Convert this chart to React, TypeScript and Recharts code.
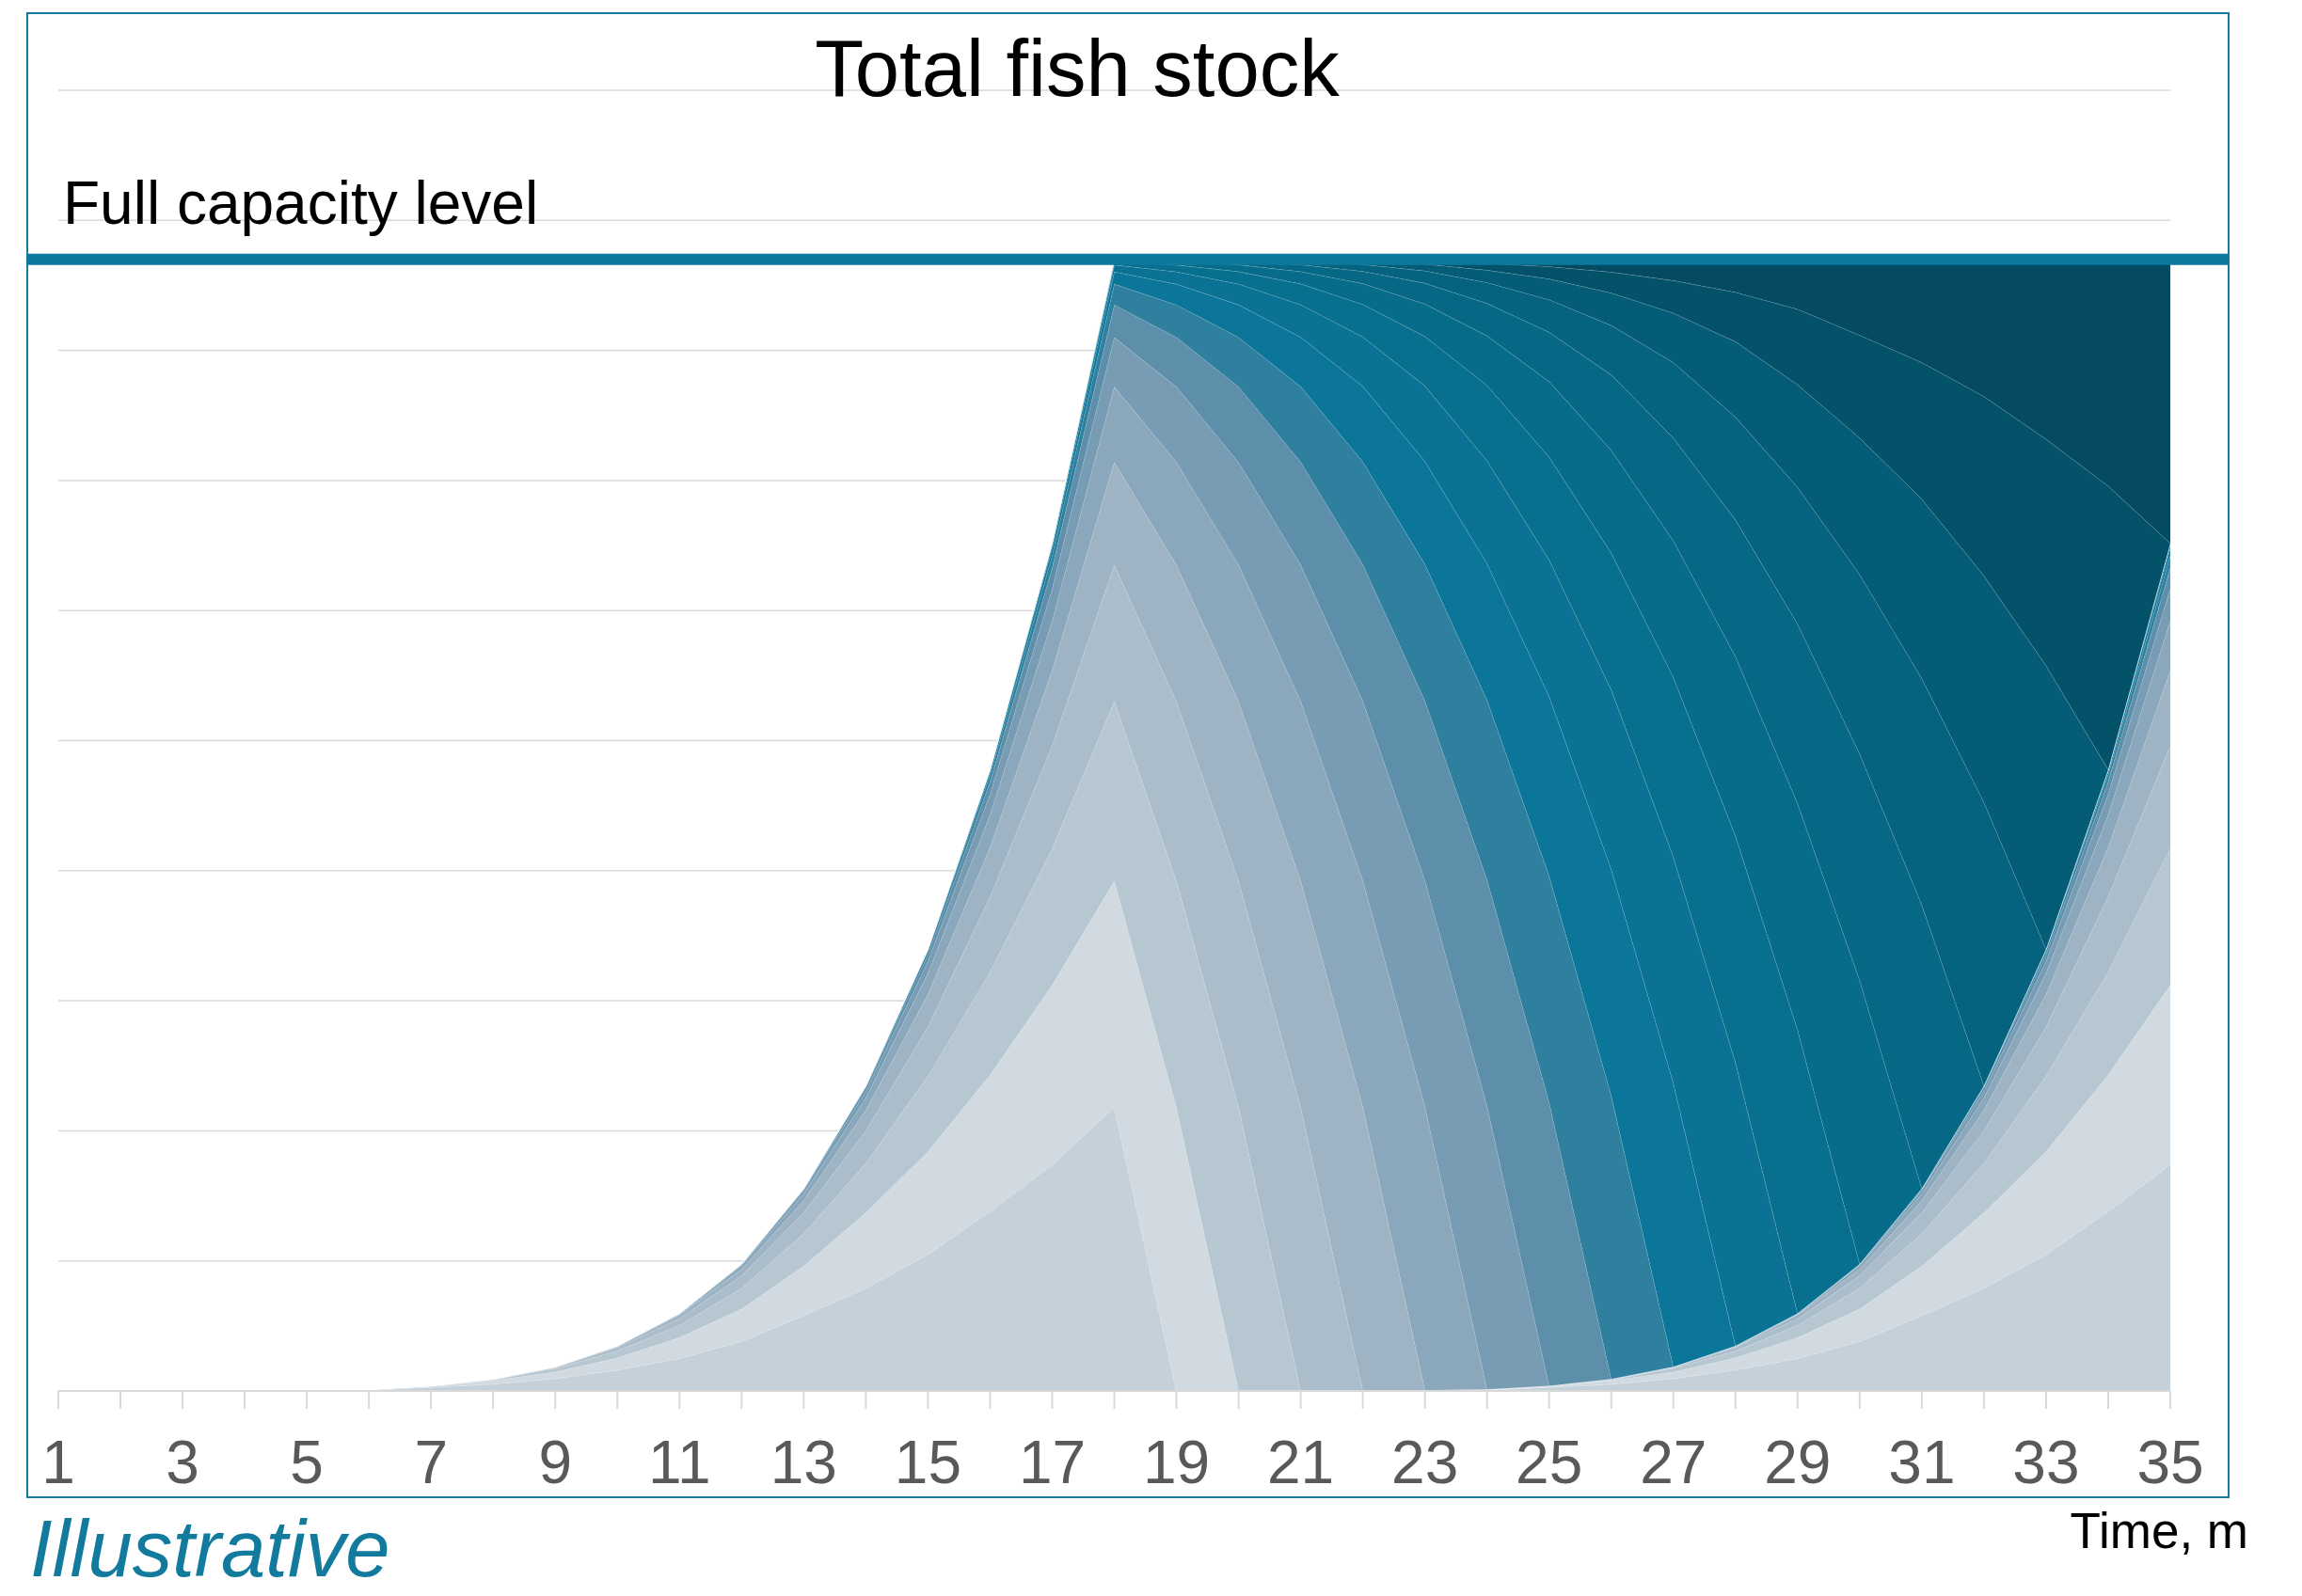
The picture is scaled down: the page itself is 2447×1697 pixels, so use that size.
import React from 'react';
import { AreaChart, Area, XAxis, YAxis, CartesianGrid, ReferenceLine } from 'recharts';

const FONT = '"Liberation Sans", Arial, Helvetica, sans-serif';

// months on the time axis, every one gets a tick, odd ones get a label
const MONTHS = [1, 2, 3, 4, 5, 6, 7, 8, 9, 10, 11, 12, 13, 14, 15, 16, 17, 18, 19, 20, 21, 22, 23, 24, 25, 26, 27, 28, 29, 30, 31, 32, 33, 34, 35];
const STOCK_GRID = [0, 10, 20, 30, 40, 50, 60, 70, 80, 90, 100];
const CAPACITY = 87;

// stock held in each pen, month by month (pen 1 sits at the bottom of the stack)
const PEN_01 = [0, .01, .01, .02, .03, .05, .28, .52, .95, 1.6, 2.5, 3.8, 5.8, 7.9, 10.5, 13.8, 17.4, 21.8, 0, .01, .01, .02, .03, .05, .28, .52, .95, 1.6, 2.5, 3.8, 5.8, 7.9, 10.5, 13.8, 17.4];
const PEN_02 = [0, 0, .01, .01, .02, .03, .05, .28, .52, .95, 1.6, 2.5, 3.8, 5.8, 7.9, 10.5, 13.8, 17.4, 21.8, 0, .01, .01, .02, .03, .05, .28, .52, .95, 1.6, 2.5, 3.8, 5.8, 7.9, 10.5, 13.8];
const PEN_03 = [0, 0, 0, .01, .01, .02, .03, .05, .28, .52, .95, 1.6, 2.5, 3.8, 5.8, 7.9, 10.5, 13.8, 17.4, 21.8, 0, .01, .01, .02, .03, .05, .28, .52, .95, 1.6, 2.5, 3.8, 5.8, 7.9, 10.5];
const PEN_04 = [0, 0, 0, 0, .01, .01, .02, .03, .05, .28, .52, .95, 1.6, 2.5, 3.8, 5.8, 7.9, 10.5, 13.8, 17.4, 21.8, 0, .01, .01, .02, .03, .05, .28, .52, .95, 1.6, 2.5, 3.8, 5.8, 7.9];
const PEN_05 = [0, 0, 0, 0, 0, .01, .01, .02, .03, .05, .28, .52, .95, 1.6, 2.5, 3.8, 5.8, 7.9, 10.5, 13.8, 17.4, 21.8, 0, .01, .01, .02, .03, .05, .28, .52, .95, 1.6, 2.5, 3.8, 5.8];
const PEN_06 = [0, 0, 0, 0, 0, 0, .01, .01, .02, .03, .05, .28, .52, .95, 1.6, 2.5, 3.8, 5.8, 7.9, 10.5, 13.8, 17.4, 21.8, 0, .01, .01, .02, .03, .05, .28, .52, .95, 1.6, 2.5, 3.8];
const PEN_07 = [0, 0, 0, 0, 0, 0, 0, .01, .01, .02, .03, .05, .28, .52, .95, 1.6, 2.5, 3.8, 5.8, 7.9, 10.5, 13.8, 17.4, 21.8, 0, .01, .01, .02, .03, .05, .28, .52, .95, 1.6, 2.5];
const PEN_08 = [0, 0, 0, 0, 0, 0, 0, 0, .01, .01, .02, .03, .05, .28, .52, .95, 1.6, 2.5, 3.8, 5.8, 7.9, 10.5, 13.8, 17.4, 21.8, 0, .01, .01, .02, .03, .05, .28, .52, .95, 1.6];
const PEN_09 = [0, 0, 0, 0, 0, 0, 0, 0, 0, .01, .01, .02, .03, .05, .28, .52, .95, 1.6, 2.5, 3.8, 5.8, 7.9, 10.5, 13.8, 17.4, 21.8, 0, .01, .01, .02, .03, .05, .28, .52, .95];
const PEN_10 = [0, 0, 0, 0, 0, 0, 0, 0, 0, 0, .01, .01, .02, .03, .05, .28, .52, .95, 1.6, 2.5, 3.8, 5.8, 7.9, 10.5, 13.8, 17.4, 21.8, 0, .01, .01, .02, .03, .05, .28, .52];
const PEN_11 = [0, 0, 0, 0, 0, 0, 0, 0, 0, 0, 0, .01, .01, .02, .03, .05, .28, .52, .95, 1.6, 2.5, 3.8, 5.8, 7.9, 10.5, 13.8, 17.4, 21.8, 0, .01, .01, .02, .03, .05, .28];
const PEN_12 = [0, 0, 0, 0, 0, 0, 0, 0, 0, 0, 0, 0, .01, .01, .02, .03, .05, .28, .52, .95, 1.6, 2.5, 3.8, 5.8, 7.9, 10.5, 13.8, 17.4, 21.8, 0, .01, .01, .02, .03, .05];
const PEN_13 = [0, 0, 0, 0, 0, 0, 0, 0, 0, 0, 0, 0, 0, .01, .01, .02, .03, .05, .28, .52, .95, 1.6, 2.5, 3.8, 5.8, 7.9, 10.5, 13.8, 17.4, 21.8, 0, .01, .01, .02, .03];
const PEN_14 = [0, 0, 0, 0, 0, 0, 0, 0, 0, 0, 0, 0, 0, 0, .01, .01, .02, .03, .05, .28, .52, .95, 1.6, 2.5, 3.8, 5.8, 7.9, 10.5, 13.8, 17.4, 21.8, 0, .01, .01, .02];
const PEN_15 = [0, 0, 0, 0, 0, 0, 0, 0, 0, 0, 0, 0, 0, 0, 0, .01, .01, .02, .03, .05, .28, .52, .95, 1.6, 2.5, 3.8, 5.8, 7.9, 10.5, 13.8, 17.4, 21.8, 0, .01, .01];
const PEN_16 = [0, 0, 0, 0, 0, 0, 0, 0, 0, 0, 0, 0, 0, 0, 0, 0, .01, .01, .02, .03, .05, .28, .52, .95, 1.6, 2.5, 3.8, 5.8, 7.9, 10.5, 13.8, 17.4, 21.8, 0, .01];
const PEN_17 = [0, 0, 0, 0, 0, 0, 0, 0, 0, 0, 0, 0, 0, 0, 0, 0, 0, .01, .01, .02, .03, .05, .28, .52, .95, 1.6, 2.5, 3.8, 5.8, 7.9, 10.5, 13.8, 17.4, 21.8, 0];
const PEN_18 = [0, 0, 0, 0, 0, 0, 0, 0, 0, 0, 0, 0, 0, 0, 0, 0, 0, 0, .01, .01, .02, .03, .05, .28, .52, .95, 1.6, 2.5, 3.8, 5.8, 7.9, 10.5, 13.8, 17.4, 21.8];

const PENS = [PEN_01, PEN_02, PEN_03, PEN_04, PEN_05, PEN_06, PEN_07, PEN_08, PEN_09, PEN_10, PEN_11, PEN_12, PEN_13, PEN_14, PEN_15, PEN_16, PEN_17, PEN_18];

const PEN_COLORS = [
  '#c4d1da', '#d0dae0', '#b7c7d1', '#abbdca', '#9eb3c3', '#8aa7bb', '#779cb3', '#5d8eaa', '#2f7f9f',
  '#0b7699', '#0a7395', '#08708f', '#076c8a', '#076885', '#06637f', '#055c76', '#04526a', '#034a62',
];

const rows = MONTHS.map((month, k) => {
  const row: Record<string, number> = { month };
  PENS.forEach((pen, i) => { row[`pen${i + 1}`] = pen[k]; });
  return row;
});

function MonthTick({ x, y, payload }: any) {
  if (payload.value % 2 === 0) return <g />;
  return (
    <text x={x} y={y + 77} textAnchor="middle" fontSize={64} fill="#595959" fontFamily={FONT}>
      {payload.value}
    </text>
  );
}

// capacity bar runs edge to edge of the frame, not just across the plot
function CapacityBar(p: any) {
  return <line x1={p.x1 - 34} y1={p.y1} x2={p.x2 + 63} y2={p.y2} stroke="#0b789c" strokeWidth={12} />;
}

export default function App() {
  return (
    <div style={{ position: 'absolute', left: 0, top: 0, width: 2447, height: 1697, background: '#fff', fontFamily: FONT }}>
      <div style={{ position: 'absolute', left: 28, top: 13, width: 2342, height: 1580, border: '2px solid #1479a0', boxSizing: 'border-box' }} />
      <div style={{ position: 'absolute', left: 0, top: 0 }}>
        <AreaChart width={2447} height={1697} data={rows} margin={{ top: 96, left: 62, right: 140, bottom: 118 }}>
          <CartesianGrid vertical={false} stroke="#d9d9d9" strokeWidth={1.5} horizontalValues={STOCK_GRID} />
          <XAxis
            dataKey="month"
            type="number"
            domain={[1, 35]}
            ticks={MONTHS}
            interval={0}
            height={100}
            tickSize={19}
            tickMargin={2}
            tickLine={{ stroke: '#d9d9d9', strokeWidth: 2 }}
            axisLine={{ stroke: '#d9d9d9', strokeWidth: 2 }}
            tick={<MonthTick />}
          />
          <YAxis type="number" domain={[0, 100]} ticks={STOCK_GRID} hide width={0} />
          {PEN_COLORS.map((color, i) => (
            <Area
              key={`pen${i + 1}`}
              type="linear"
              dataKey={`pen${i + 1}`}
              stackId="stock"
              fill={color}
              fillOpacity={1}
              stroke="#ffffff"
              strokeOpacity={0.3}
              strokeWidth={1}
              dot={false}
              activeDot={false}
              isAnimationActive={false}
            />
          ))}
          <ReferenceLine y={CAPACITY} shape={CapacityBar} />
        </AreaChart>
      </div>
      <svg width={2447} height={1697} style={{ position: 'absolute', left: 0, top: 0, pointerEvents: 'none' }}>
        <text x={1145} y={102} textAnchor="middle" fontSize={85} fill="#000" fontFamily={FONT}>Total fish stock</text>
        <text x={67} y={238} fontSize={64} fill="#000" fontFamily={FONT}>Full capacity level</text>
        <text x={32} y={1676} fontSize={85} fontStyle="italic" fill="#117a9d" fontFamily={FONT}>Illustrative</text>
        <text x={2390} y={1646} textAnchor="end" fontSize={53} fill="#000" fontFamily={FONT}>Time, m</text>
      </svg>
    </div>
  );
}
